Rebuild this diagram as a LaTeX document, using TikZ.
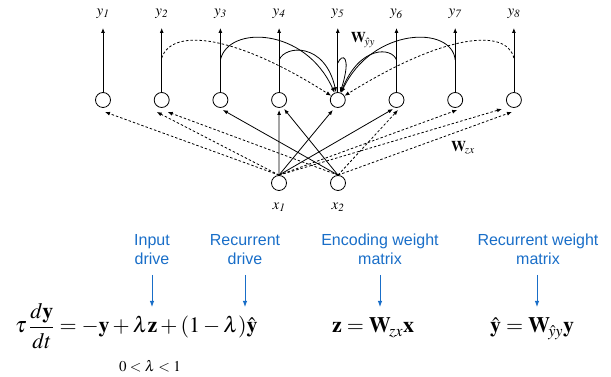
\documentclass[tikz,border=0pt]{standalone}
\usepackage{mathptmx}
\usepackage{fontspec}
\setmainfont{Liberation Serif}
\setsansfont{Liberation Sans}
\usetikzlibrary{arrows.meta,calc}
\definecolor{lblue}{RGB}{25,110,200}
\begin{document}
\begin{tikzpicture}[x=1pt,y=1pt,
  neuron/.style={draw, circle, minimum size=15pt, inner sep=0pt, line width=0.8pt},
  arr/.style={-{Latex[length=5pt,width=4pt]}, line width=0.8pt},
  darr/.style={arr, dash pattern=on 2.5pt off 2pt},
  blarr/.style={-{Latex[length=6pt,width=4.5pt]}, line width=0.9pt, lblue},
  bl/.style={text=lblue, font=\sffamily\fontsize{16}{19}\selectfont, align=center, inner sep=0pt},
  ylab/.style={font=\fontsize{15}{17}\selectfont, inner sep=0pt},
  wlab/.style={font=\fontsize{15}{17}\selectfont, inner sep=0pt},
  eq/.style={font=\fontsize{22}{26}\selectfont, inner sep=0pt, anchor=base west},
  ]
\useasboundingbox (0,0) rectangle (611,377);

% hidden layer with outputs
\foreach \i in {1,...,8} {
  \pgfmathsetmacro{\xx}{103+58.7*(\i-1)}
  \node[neuron] (h\i) at (\xx,277) {};
  \coordinate (o\i) at (\xx,349);
  \node[ylab] (yl\i) at (\xx,363) {$y_{\mathit{\i}}$};
  \draw[arr] (h\i) -- (o\i);
}

% inputs
\node[neuron] (x1) at (279,194) {};
\node[neuron] (x2) at (338,194) {};
\node[ylab] (xl1) at (279,170) {$x_{\mathit{1}}$};
\node[ylab] (xl2) at (338,170) {$x_{\mathit{2}}$};

% input connections
\draw[darr] (x1.north) -- ($(h1)+(2,-12)$);
\draw[darr] (x1.north) -- ($(h2)+(-5,-12)$);
\draw[darr] (x2.north) -- ($(h2)+(6,-12)$);
\draw[arr]  (x2.north) -- ($(h3)+(2.5,-10)$);
\draw[arr]  (x1.north) -- ($(h4)+(0,-10)$);
\draw[arr]  (x2.north) -- ($(h4)+(5,-9)$);
\draw[arr]  (x1.north) -- ($(h5)+(-5,-10)$);
\draw[arr]  (x1.north) -- ($(h6)+(-3.5,-9)$);
\draw[darr] (x2.north) -- ($(h6)+(1.5,-10)$);
\draw[darr] (x1.north) -- ($(h7)+(2,-10)$);
\draw[darr] (x1.north) -- ($(h8)+(-12,-9)$);
\draw[darr] (x2.north) -- ($(h8)+(-2,-12)$);

% recurrent connections into h5
\coordinate (r2) at (161.7,319);
\coordinate (r3) at (220.4,317);
\coordinate (r4) at (279.1,317);
\coordinate (r5) at (337.8,314);
\coordinate (r6) at (396.5,317);
\coordinate (r7) at (455.2,317);
\coordinate (r8) at (513.9,319);
\draw[darr] (r2) .. controls (172,350) and (236,342) .. (h5);
\draw[arr]  (r3) .. controls (228,352) and (305,350) .. (h5);
\draw[arr]  (r4) .. controls (285,332) and (325,335) .. (h5);
\draw[arr]  (r5) .. controls (342,324) and (352,322) .. (h5);
\draw[arr]  (r6) .. controls (392,330) and (360,332) .. (h5);
\draw[arr]  (r7) .. controls (452,352) and (372,350) .. (h5);
\draw[darr] (r8) .. controls (506,350) and (442,342) .. (h5);

\node[wlab] (wyy) at (363,337) {$\mathbf{W}_{\!\hat{y}y}$};
\node[wlab] (wzx) at (463,229) {$\mathbf{W}_{\!zx}$};

% blue labels
\node[bl] (b1) at (152,127.5) {Input\\drive};
\node[bl] (b2) at (245,127.5) {Recurrent\\drive};
\node[bl] (b3) at (380,127.5) {Encoding weight\\matrix};
\node[bl] (b4) at (538,127.5) {Recurrent weight\\matrix};
\coordinate (t1) at (152,70);
\coordinate (t2) at (245,70);
\coordinate (t3) at (380,70);
\coordinate (t4) at (537,70);
\draw[blarr] (152,102) -- (t1);
\draw[blarr] (245,102) -- (t2);
\draw[blarr] (380,102) -- (t3);
\draw[blarr] (537,102) -- (t4);

% equations
\node[eq] (e1) at (15,44) {$\displaystyle \tau\,\frac{d\mathbf{y}}{dt} = -\mathbf{y} + \lambda\mathbf{z} + (1-\lambda)\hat{\mathbf{y}}$};
\node[font=\fontsize{15}{17}\selectfont, inner sep=0pt] (e0) at (150,11) {$0 < \lambda < 1$};
\node[eq] (e2) at (332,44) {$\mathbf{z} = \mathbf{W}_{\!zx}\mathbf{x}$};
\node[eq] (e3) at (490,44) {$\hat{\mathbf{y}} = \mathbf{W}_{\!\hat{y}y}\mathbf{y}$};
\end{tikzpicture}
\end{document}
